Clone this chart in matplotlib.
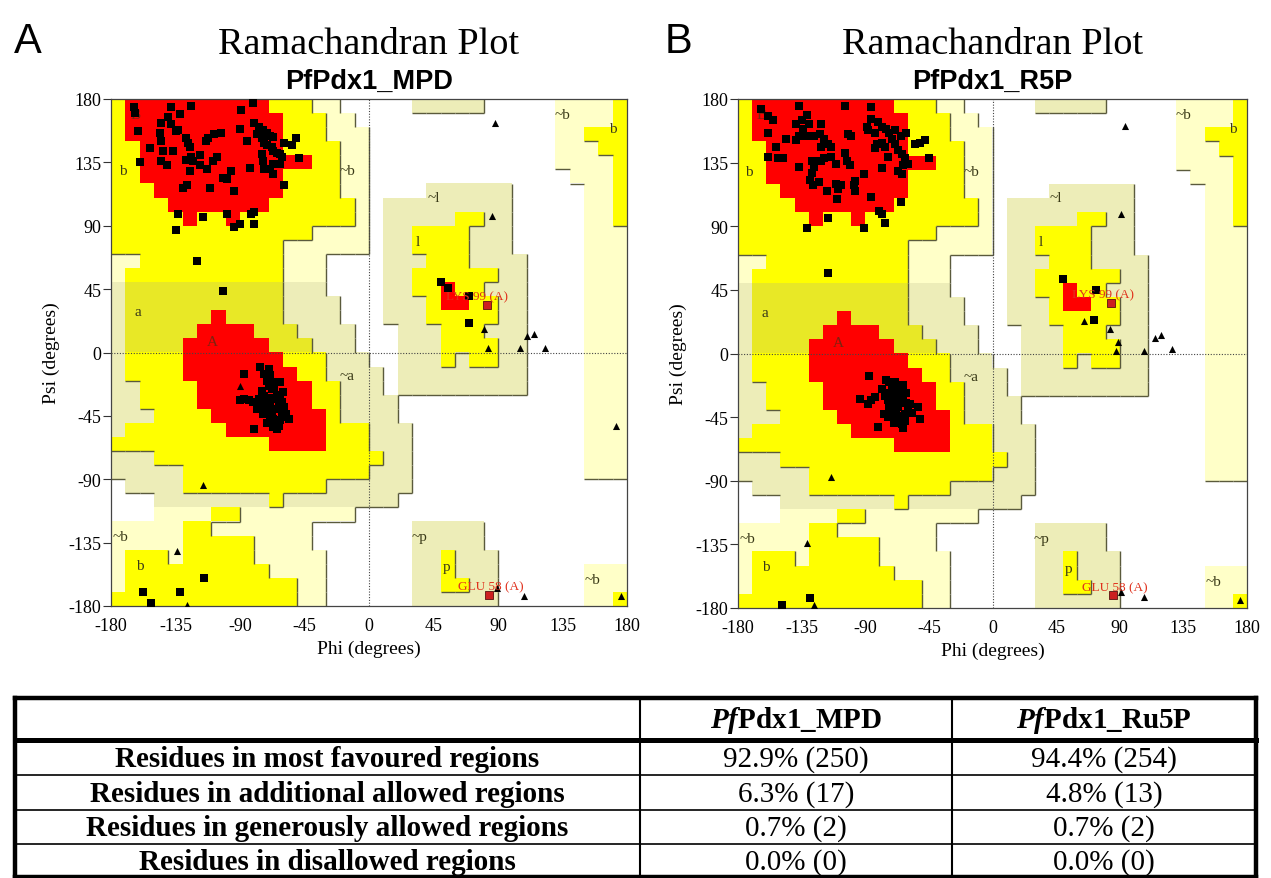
import numpy as np
import matplotlib.pyplot as plt
from matplotlib.collections import LineCollection
from matplotlib.colors import to_rgb

plt.rcParams['font.family'] = ['Liberation Serif', 'DejaVu Serif']
plt.rcParams['axes.unicode_minus'] = False
plt.rcParams['mathtext.fontset'] = 'custom'
plt.rcParams['mathtext.it'] = 'Liberation Serif:italic:bold'
plt.rcParams['mathtext.rm'] = 'Liberation Serif:bold'

# PROCHECK-style region map, 10 degree cells, run-length coded.
# rows go from psi 180 (top) down to psi -180, columns from phi -180 to 180
# R core, Y/O allowed, C/G generous, W disallowed
REGION_MAP = [
    "Y1 R10 Y3 C2 W5 G5 W5 C4 Y1",
    "Y1 R11 Y3 C2 W14 C4 Y1",
    "Y1 R11 Y3 C3 W13 C2 Y3",
    "Y2 R10 Y4 C2 W13 C3 Y2",
    "Y2 R12 Y2 C2 W13 C4 Y1",
    "Y2 R10 Y4 C2 W14 C3 Y1",
    "Y3 R9 Y4 C2 W4 G6 W5 C2 Y1",
    "Y4 R7 Y6 C1 W1 G9 W5 C2 Y1",
    "Y5 R1 Y2 R1 Y8 C1 W1 G5 Y2 G2 W5 C2 Y1",
    "Y14 C4 W1 G2 Y4 G3 W5 C3",
    "Y12 C6 W1 G2 Y4 G3 W5 C3",
    "C2 Y10 C3 W4 G3 Y3 G4 W4 C3",
    "C1 Y11 C3 W4 G2 Y6 G2 W4 C3",
    "G1 O11 G3 W4 G2 Y2 R1 Y2 G3 W4 C3",
    "G1 O11 G4 W3 G3 Y1 R2 Y2 G2 W4 C3",
    "G1 O6 R1 O4 G4 W3 G3 Y5 G2 W4 C3",
    "G1 O5 R4 O3 G4 W3 G3 Y3 G3 W4 C3",
    "G1 O4 R6 O3 G3 W3 G3 Y4 G2 W4 C3",
    "G1 Y4 R7 Y3 G3 W2 G3 Y1 G1 Y2 G2 W4 C3",
    "G1 Y4 R8 Y2 G4 W1 G9 W4 C3",
    "G2 Y4 R8 Y2 G3 W1 G9 W4 C3",
    "G2 Y4 R8 Y2 G4 W13 C3",
    "G3 Y4 R8 Y1 G4 W13 C3",
    "G1 Y7 R7 Y3 G3 W12 C3",
    "Y11 R4 Y3 G3 W12 C3",
    "G3 Y16 G2 W12 C3",
    "G5 Y13 G3 W12 C3",
    "W1 G4 Y10 G6 W15",
    "W3 G8 Y1 G8 W16",
    "W3 C4 Y2 C8 W19",
    "C5 Y2 C7 W7 G5 W10",
    "C5 Y5 C4 W7 G5 W10",
    "C1 Y3 C1 Y5 C5 W6 G2 Y1 G3 W9",
    "C1 Y10 C4 W6 G2 Y1 G3 W6 C3",
    "C1 Y12 C2 W6 G2 Y2 G2 W6 C3",
    "Y13 C2 W6 G6 W6 C2 Y1",
]
REGION_COLOURS = {'R': '#ff0000', 'Y': '#ffff00', 'O': '#e8e826',
                  'C': '#ffffc8', 'G': '#ededb8', 'W': '#ffffff'}
RANK = {'W': 0, 'C': 1, 'G': 1, 'Y': 2, 'O': 2, 'R': 3}

REGION_LABELS = ["B", "b", "~b", "a", "A", "~l", "l", "~b", "b", "~a", "~b", "b", "~p", "p", "~b"]
LABEL_PHI = [-163, -172, -15, -161, -109, 45, 34, 135, 170, -15, -179, -160, 35, 54, 156]
LABEL_PSI = [169, 129, 129, 29, 8, 110, 79, 169, 159, -16, -131, -151, -131, -152, -161]

# ---- PfPdx1_MPD ----
MPD_SHEET_PHI = [-164, -138, -124, -81, -89, -132, -145, -161, -140, -138, -135, -133, -146, -145, -144, -137,
                 -153, -160, -145, -141, -128, -126, -125, -124, -128, -123, -118, -114, -112, -108, -103, -90,
                 -85, -80, -77, -76, -74, -71, -69, -67, -78, -75, -73, -71, -68, -67, -64, -62, -61, -59, -54,
                 -51, -49, -75, -74, -73, -67, -69, -83, -59, -67, -62, -106, -109, -113, -118, -125, -127, -130,
                 -111, -102, -99, -96, -94, -133, -116, -99, -94, -90, -82, -80, -80, -135, -120, -102, -163]
MPD_SHEET_PSI = [174, 174, 175, 177, 172, 169, 163, 157, 167, 162, 157, 158, 156, 150, 143, 143,
                 145, 135, 136, 133, 152, 149, 146, 139, 137, 136, 140, 150, 152, 155, 156, 159,
                 150, 163, 160, 156, 158, 156, 154, 153, 155, 152, 149, 147, 146, 143, 142, 141, 139, 149, 147,
                 152, 138, 141, 136, 130, 127, 130, 131, 119, 134, 134, 139, 136, 130, 133, 129, 119, 117,
                 117, 124, 123, 129, 115, 98, 96, 98, 89, 91, 98, 100, 91, 87, 65, 44, 170]
MPD_HELIX_PHI = [-87, -76, -90, -87, -84, -81, -80, -69, -71, -70, -67, -66, -64, -62, -63, -66, -68, -71,
                 -74, -76, -61, -60, -62, -64, -67, -69, -59, -58, -74, -73, -75, -71, -69, -64, -63, -67,
                 -71, -68, -77, -61, -66, -60, -70, -73, -62, -68, -78, -56, -62, -70]
MPD_HELIX_PSI = [-15, -10, -34, -33, -34, -35, -54, -16, -20, -24, -21, -26, -30, -33, -37, -40, -43, -41,
                 -38, -35, -43, -46, -48, -51, -47, -46, -39, -44, -44, -31, -27, -33, -37, -54, -52, -53,
                 -50, -32, -33, -35, -33, -28, -12, -15, -21, -26, -40, -47, -39, -39]
MPD_OTHER_PHI = [50, 55, 70, 70, -115, -158, -132, -152]
MPD_OTHER_PSI = [50, 46, 40, 21, -160, -170, -170, -178]
MPD_GLY_PHI = [-90, -116, -134, -127, 88, 86, 80, 110, 115, 123, 105, 83, 172, 89, 108, 176]
MPD_GLY_PSI = [-24, -94, -141, -179, 163, 97, 17, 12, 13, 3, 3, 3, -52, -167, -173, -173]
MPD_FLAGGED = ["LYS 99 (A)", "GLU 58 (A)"]
MPD_FLAGGED_PHI = [82, 84]
MPD_FLAGGED_PSI = [34, -172]

# ---- PfPdx1_R5P ----
R5P_SHEET_PHI = [-164, -159, -155, -137, -131, -135, -139, -130, -134, -137, -139, -131, -126, -122, -121, -119,
                 -116, -114, -121, -159, -146, -153, -159, -152, -148, -137, -128, -124, -121, -119, -114,
                 -111, -126, -128, -129, -127, -123, -117, -111, -109, -107, -110, -104, -103, -101, -100, -104,
                 -86, -86, -81, -89, -88, -83, -78, -75, -73, -69, -65, -61, -71, -69, -67, -64, -62, -78, -82,
                 -83, -76, -74, -78, -67, -64, -63, -60, -55, -51, -48, -45, -91, -97, -98, -97, -86, -80, -78,
                 -76, -65, -91, -116, -131, -116, -102]
R5P_SHEET_PSI = [173, 168, 165, 175, 169, 165, 162, 162, 159, 154, 151, 154, 154, 155, 162, 152,
                 148, 146, 146, 156, 152, 146, 139, 138, 138, 132, 136, 136, 136, 138, 139,
                 134, 132, 128, 123, 119, 121, 115, 120, 116, 119, 109, 142, 136, 133, 154, 175,
                 174, 166, 164, 160, 158, 156, 160, 159, 156, 158, 154, 156, 152, 148, 144, 141, 138, 149, 148,
                 145, 146, 139, 131, 129, 127, 133, 134, 148, 149, 151, 138, 127, 122, 119, 115, 111, 101, 99,
                 92, 107, 89, 96, 89, 57, 155]
R5P_HELIX_PHI = [-87, -94, -86, -88, -81, -75, -73, -69, -71, -74, -70, -67, -64, -65, -63, -61, -60, -62,
                 -65, -68, -71, -74, -69, -64, -63, -57, -53, -51, -73, -69, -67, -74, -76, -77, -70, -62,
                 -58, -63, -61, -78, -68, -83]
R5P_HELIX_PSI = [-16, -32, -33, -36, -52, -19, -20, -20, -24, -28, -29, -28, -25, -31, -33, -35, -39, -43,
                 -44, -42, -40, -45, -46, -50, -53, -42, -38, -46, -37, -35, -38, -33, -30, -43, -49, -48,
                 -36, -22, -28, -25, -24, -31]
R5P_OTHER_PHI = [50, 73, 72, -129, -149]
R5P_OTHER_PSI = [53, 45, 24, -173, -178]
R5P_GLY_PHI = [-114, -131, -126, 94, 91, 65, 83, 89, 87, 115, 119, 107, 127, 91, 107, 175]
R5P_GLY_PSI = [-87, -134, -178, 161, 99, 23, 17, 8, 2, 11, 13, 2, 3, -169, -172, -174]
R5P_FLAGGED = ["LYS 99 (A)", "GLU 58 (A)"]
R5P_FLAGGED_PHI = [84, 85]
R5P_FLAGGED_PSI = [36, -171]

# ---- table ----
TABLE_HEADERS = ["", r"$\mathit{Pf}$Pdx1_MPD", r"$\mathit{Pf}$Pdx1_Ru5P"]
TABLE_ROWS = ["Residues in most favoured regions", "Residues in additional allowed regions",
              "Residues in generously allowed regions", "Residues in disallowed regions"]
MPD_PCT = [92.9, 6.3, 0.7, 0.0]
MPD_N = [250, 17, 2, 0]
RU5P_PCT = [94.4, 4.8, 0.7, 0.0]
RU5P_N = [254, 13, 2, 0]

TICKS = [-180, -135, -90, -45, 0, 45, 90, 135, 180]


def decode(rows):
    grid = []
    for row in rows:
        cells = ""
        for run in row.split():
            cells += run[0] * int(run[1:])
        assert len(cells) == 36, row
        grid.append(cells)
    return grid


def draw_regions(ax, grid):
    rgb = np.array([[to_rgb(REGION_COLOURS[ch]) for ch in row] for row in grid])
    ax.imshow(rgb, extent=(-180, 180, -180, 180), origin='upper',
              interpolation='nearest', aspect='auto', zorder=0)
    # dark "shadow" edges on right/bottom of allowed + generous areas
    segs = []
    for r in range(36):
        for c in range(36):
            k = RANK[grid[r][c]]
            if k not in (1, 2):
                continue
            x0 = -180 + 10 * c
            y0 = 180 - 10 * r
            if c < 35 and RANK[grid[r][c + 1]] < k:
                segs.append([(x0 + 10, y0), (x0 + 10, y0 - 10)])
            if r < 35 and RANK[grid[r + 1][c]] < k:
                segs.append([(x0, y0 - 10), (x0 + 10, y0 - 10)])
    ax.add_collection(LineCollection(segs, colors='#5a5a3c', linewidths=1.0, zorder=1))

    for text, phi, psi in zip(REGION_LABELS, LABEL_PHI, LABEL_PSI):
        col = '#7a2410' if text.isupper() else '#3a3a18'
        ha = 'left' if phi < -174 else 'center'
        ax.text(phi, psi, text, fontsize=11, color=col, ha=ha, va='center', zorder=2)


def plot_rama(ax, grid, sheet, helix, other, gly, flagged):
    draw_regions(ax, grid)
    ax.axhline(0, color='#444444', lw=0.8, ls=(0, (1, 1.5)), zorder=1.5)
    ax.axvline(0, color='#444444', lw=0.8, ls=(0, (1, 1.5)), zorder=1.5)

    for phi, psi in (sheet, helix, other):
        ax.scatter(phi, psi, marker='s', s=27, color='black', linewidths=0, zorder=3)
    ax.scatter(gly[0], gly[1], marker='^', s=26, color='black', linewidths=0, zorder=3)

    names, fphi, fpsi = flagged
    ax.scatter(fphi, fpsi, marker='s', s=26, color='#cc2020', edgecolors='#5a1010',
               linewidths=0.6, zorder=4)
    for name, phi, psi in zip(names, fphi, fpsi):
        ax.text(phi - 28 if psi > 0 else phi - 22, psi + 6, name, fontsize=9.5, color='#e0301c',
                ha='left', va='center', zorder=4)

    ax.set_xlim(-180, 180)
    ax.set_ylim(-180, 180)
    ax.set_xticks(TICKS)
    ax.set_yticks(TICKS)
    ax.tick_params(axis='y', direction='out', length=6, width=0.8, color='#333333',
                   labelsize=13, pad=1)
    ax.tick_params(axis='x', length=0, labelsize=13, pad=8)
    for sp in ax.spines.values():
        sp.set_color('#444444')
        sp.set_linewidth(0.9)
    ax.set_xlabel("Phi (degrees)", fontsize=14, labelpad=4)
    ax.set_ylabel("Psi (degrees)", fontsize=14, labelpad=6)


grid = decode(REGION_MAP)

fig = plt.figure(figsize=(12.71, 8.79), dpi=100)
W, H = 1271, 879

ax_a = fig.add_axes([111 / W, 1 - 607 / H, 516 / W, 507 / H])
ax_b = fig.add_axes([738 / W, 1 - 609 / H, 509 / W, 509 / H])

plot_rama(ax_a, grid, (MPD_SHEET_PHI, MPD_SHEET_PSI), (MPD_HELIX_PHI, MPD_HELIX_PSI),
          (MPD_OTHER_PHI, MPD_OTHER_PSI), (MPD_GLY_PHI, MPD_GLY_PSI),
          (MPD_FLAGGED, MPD_FLAGGED_PHI, MPD_FLAGGED_PSI))
plot_rama(ax_b, grid, (R5P_SHEET_PHI, R5P_SHEET_PSI), (R5P_HELIX_PHI, R5P_HELIX_PSI),
          (R5P_OTHER_PHI, R5P_OTHER_PSI), (R5P_GLY_PHI, R5P_GLY_PSI),
          (R5P_FLAGGED, R5P_FLAGGED_PHI, R5P_FLAGGED_PSI))

for ax, letter, sub, lx in ((ax_a, "A", "PfPdx1_MPD", 28), (ax_b, "B", "PfPdx1_R5P", 678)):
    pos = ax.get_position()
    cx = (pos.x0 + pos.x1) / 2
    fig.text(cx, 1 - 45 / H, "Ramachandran Plot", fontsize=27.5, ha='center', va='center')
    fig.text(cx, 1 - 82 / H, sub, fontsize=19.5, fontweight='bold', family='Liberation Sans',
             ha='center', va='center')
    fig.text(lx / W, 1 - 42 / H, letter, fontsize=30, family='Liberation Sans',
             ha='center', va='center')

# table drawn in pixel space
tab = fig.add_axes([0, 0, 1, 1], zorder=5)
tab.set_xlim(0, W)
tab.set_ylim(H, 0)
tab.axis('off')
tab.patch.set_alpha(0)

left, right, top, bottom = 15, 1256, 699, 878
col_x = [left, 640, 952, right]
row_y = [top, 741, 776, 811, 845, bottom]

tab.plot([left, right], [top, top], color='black', lw=3.2, solid_capstyle='projecting')
tab.plot([left, right], [bottom, bottom], color='black', lw=3.2, solid_capstyle='projecting')
tab.plot([left, left], [top, bottom], color='black', lw=3.2)
tab.plot([right, right], [top, bottom], color='black', lw=3.2)
tab.plot([left, right], [row_y[1], row_y[1]], color='black', lw=3.6)
for y in row_y[2:-1]:
    tab.plot([left, right], [y, y], color='black', lw=1.2)
for x in col_x[1:-1]:
    tab.plot([x, x], [top, bottom], color='black', lw=1.5)

centers = [(col_x[i] + col_x[i + 1]) / 2 for i in range(3)]
for i, head in enumerate(TABLE_HEADERS):
    tab.text(centers[i], (row_y[0] + row_y[1]) / 2 + 1, head, fontsize=21, fontweight='bold',
             ha='center', va='center')
for j, label in enumerate(TABLE_ROWS):
    yc = (row_y[j + 1] + row_y[j + 2]) / 2 + 1
    tab.text(centers[0], yc, label, fontsize=21, fontweight='bold', ha='center', va='center')
    tab.text(centers[1], yc, f"{MPD_PCT[j]:.1f}% ({MPD_N[j]})", fontsize=21, ha='center', va='center')
    tab.text(centers[2], yc, f"{RU5P_PCT[j]:.1f}% ({RU5P_N[j]})", fontsize=21, ha='center', va='center')

fig.savefig('out.png', dpi=100)
